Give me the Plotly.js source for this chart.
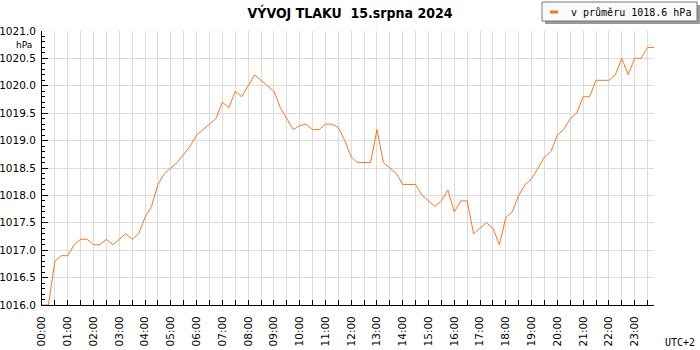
<!DOCTYPE html>
<html>
<head>
<meta charset="utf-8">
<script src="https://cdn.plot.ly/plotly-3.0.1.min.js"></script>
<style>html,body{margin:0;padding:0;background:#fff;}#chart{width:700px;height:350px;}</style>
</head>
<body>
<div id="chart"></div>
<script>
// 15-minute pressure readings, 15 Aug 2024 (hPa)
const dayDate = '2024-08-15';
const stepMinutes = 15;
const pressure = [
  1016.0, 1016.0, 1016.8, 1016.9, 1016.9, 1017.1, 1017.2, 1017.2,
  1017.1, 1017.1, 1017.2, 1017.1, 1017.2, 1017.3, 1017.2, 1017.3,
  1017.6, 1017.8, 1018.2, 1018.4, 1018.5, 1018.6, 1018.75, 1018.9,
  1019.1, 1019.2, 1019.3, 1019.4, 1019.7, 1019.6, 1019.9, 1019.8,
  1020.0, 1020.2, 1020.1, 1020.0, 1019.9, 1019.6, 1019.4, 1019.2,
  1019.27, 1019.3, 1019.2, 1019.2, 1019.3, 1019.3, 1019.24, 1019.0,
  1018.7, 1018.6, 1018.6, 1018.6, 1019.2, 1018.6, 1018.5, 1018.4,
  1018.2, 1018.2, 1018.2, 1018.0, 1017.9, 1017.8, 1017.9, 1018.1,
  1017.7, 1017.9, 1017.9, 1017.3, 1017.4, 1017.5, 1017.4, 1017.1,
  1017.6, 1017.7, 1018.0, 1018.2, 1018.3, 1018.5, 1018.7, 1018.8,
  1019.1, 1019.2, 1019.4, 1019.5, 1019.8, 1019.8, 1020.1, 1020.1,
  1020.1, 1020.2, 1020.5, 1020.2, 1020.5, 1020.5, 1020.7, 1020.7
];
const titleText = 'VÝVOJ TLAKU  15.srpna 2024';
const legendText = 'v průměru 1018.6 hPa';
const unitText = 'hPa';
const zoneText = 'UTC+2';
const yRange = [1016, 1021];

function pad(n){ return (n < 10 ? '0' : '') + n; }
const times = pressure.map(function(_, i){
  const m = i * stepMinutes;
  return dayDate + ' ' + pad(Math.floor(m / 60)) + ':' + pad(m % 60);
});

const lineColor = '#ff7420';
const gridColor = '#dcdcdc';
const monoFont = 'DejaVu Sans Mono, monospace';
const sansFont = 'DejaVu Sans, Verdana, sans-serif';

const trace = {
  x: times, y: pressure, type: 'scatter', mode: 'lines',
  name: legendText, line: {color: lineColor, width: 1},
  showlegend: false, hoverinfo: 'x+y'
};

// plot area in pixels: x 42..654, y 31..305
const L = 42, R = 654, T = 31, B = 305;
function px(x){ return (x - L) / (R - L); }
function py(y){ return (B - y) / (B - T); }

const yCommon = {
  range: yRange, dtick: 0.5, tick0: 1016, tickformat: '.1f',
  ticks: 'inside', ticklen: 6, tickcolor: '#000', tickwidth: 1,
  minor: {dtick: 0.1, ticks: 'inside', ticklen: 3, tickcolor: '#000', showgrid: false},
  showline: true, linecolor: '#000', linewidth: 1, zeroline: false,
  tickfont: {family: sansFont, size: 10.5, color: '#000'}, fixedrange: true
};

const layout = {
  width: 700, height: 350,
  margin: {l: L, r: 700 - R, t: T, b: 350 - B, pad: 0},
  paper_bgcolor: '#fff', plot_bgcolor: '#fff',
  title: {text: titleText, x: 0.5, xref: 'container', xanchor: 'center',
          y: 1 - 13 / 350, yref: 'container', yanchor: 'middle',
          font: {family: 'DejaVu Sans Condensed, DejaVu Sans', size: 14, weight: 'bold', color: '#000'}},
  xaxis: {
    type: 'date', range: [times[0], times[times.length - 1]],
    tick0: times[0], dtick: 3600000, tickformat: '%H:%M', tickangle: -90,
    ticks: 'inside', ticklen: 5, tickcolor: '#000', ticklabelstandoff: 6,
    showgrid: true, gridcolor: gridColor, gridwidth: 1,
    minor: {dtick: 1800000, ticks: 'inside', ticklen: 5, tickcolor: '#000', showgrid: true, gridcolor: gridColor},
    showline: true, linecolor: '#000', linewidth: 1, zeroline: false,
    tickfont: {family: sansFont, size: 10.5, color: '#000'}, fixedrange: true
  },
  yaxis: Object.assign({}, yCommon, {showgrid: true, gridcolor: gridColor, side: 'left', ticklabelstandoff: 3}),
  yaxis2: Object.assign({}, yCommon, {showgrid: false, overlaying: 'y', side: 'right', matches: 'y', ticklabelstandoff: 7}),
  showlegend: false,
  shapes: [
    {type: 'rect', xref: 'paper', yref: 'paper', x0: px(545), x1: px(700), y0: py(24), y1: py(5),
     fillcolor: '#9a9a9a', line: {width: 0}, layer: 'above'},
    {type: 'rect', xref: 'paper', yref: 'paper', x0: px(542), x1: px(697), y0: py(21), y1: py(2),
     fillcolor: '#fbfbfb', line: {width: 1, color: '#777777'}, layer: 'above'},
    {type: 'line', xref: 'paper', yref: 'paper', x0: px(550), x1: px(558), y0: py(12), y1: py(12),
     line: {width: 3, color: lineColor}, layer: 'above'}
  ],
  annotations: [
    {text: legendText, xref: 'paper', yref: 'paper', x: px(569), y: py(12), xanchor: 'left', yanchor: 'middle',
     showarrow: false, font: {family: monoFont, size: 10, color: '#000'}},
    {text: unitText, xref: 'paper', yref: 'paper', x: px(34), y: py(45), xanchor: 'right', yanchor: 'middle',
     showarrow: false, font: {family: sansFont, size: 9, color: '#000'}},
    {text: zoneText, xref: 'paper', yref: 'paper', x: px(697), y: py(342), xanchor: 'right', yanchor: 'middle',
     showarrow: false, font: {family: monoFont, size: 10, color: '#000'}}
  ]
};

Plotly.newPlot('chart', [trace], layout, {displayModeBar: false, staticPlot: true});
</script>
</body>
</html>
